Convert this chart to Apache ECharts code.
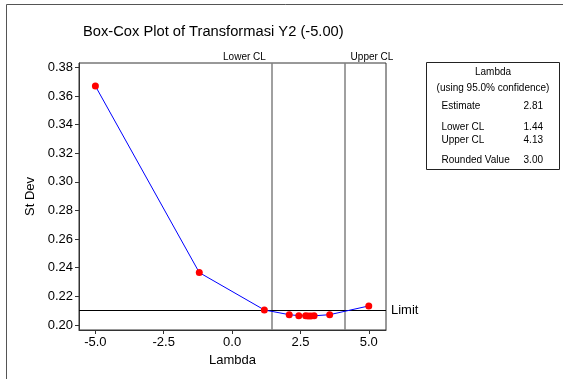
<!DOCTYPE html>
<html><head><meta charset="utf-8">
<script src="https://cdn.jsdelivr.net/npm/echarts@6/dist/echarts.min.js"></script>
<style>html,body{margin:0;padding:0;background:#fff}#c{width:563px;height:379px}</style>
</head><body><div id="c"></div>
<script>
var lambdas = [-5.0, -1.2, 1.18, 2.09, 2.44, 2.69, 2.78, 2.88, 3.0, 3.57, 5.0];
var stdevs  = [0.3669, 0.2366, 0.2105, 0.2072, 0.2065, 0.2064, 0.2063, 0.2063, 0.2064, 0.2072, 0.2133];
var xTicks = [-5.0, -2.5, 0.0, 2.5, 5.0];
var yTicks = [0.20, 0.22, 0.24, 0.26, 0.28, 0.30, 0.32, 0.34, 0.36, 0.38];
var lowerCL = 1.44, upperCL = 4.13, limitVal = 0.2096;
var boxTitle = ['Lambda', '(using 95.0% confidence)'];
var boxRows = [['Estimate', '2.81'], ['Lower CL', '1.44'], ['Upper CL', '4.13'], ['Rounded Value', '3.00']];
var FONT = "'Liberation Sans', Arial, sans-serif";

var chart = echarts.init(document.getElementById('c'), null, {renderer: 'canvas'});
var data = lambdas.map(function (l, i) { return [l, stdevs[i]]; });
var rowY = [106.7, 127.7, 140.7, 160.7];
var boxChildren = [
  {type: 'rect', shape: {x: 426.5, y: 62.5, width: 133, height: 107}, style: {fill: '#fff', stroke: '#222', lineWidth: 1}},
  {type: 'text', x: 493, y: 72.7, style: {text: boxTitle[0], font: '10px ' + FONT, fill: '#000', align: 'center', verticalAlign: 'middle'}},
  {type: 'text', x: 493, y: 88.7, style: {text: boxTitle[1], font: '10px ' + FONT, fill: '#000', align: 'center', verticalAlign: 'middle'}}
];
boxRows.forEach(function (r, i) {
  boxChildren.push({type: 'text', x: 441.5, y: rowY[i], style: {text: r[0], font: '10px ' + FONT, fill: '#000', align: 'left', verticalAlign: 'middle'}});
  boxChildren.push({type: 'text', x: 543, y: rowY[i], style: {text: r[1], font: '10px ' + FONT, fill: '#000', align: 'right', verticalAlign: 'middle'}});
});

chart.setOption({
  animation: false,
  backgroundColor: '#fff',
  textStyle: {fontFamily: FONT},
  title: {text: 'Box-Cox Plot of Transformasi Y2 (-5.00)', left: 78, top: 19,
    textStyle: {fontSize: 14.7, fontWeight: 'normal', color: '#000', fontFamily: FONT}},
  grid: {left: 79, top: 63, width: 307, height: 267, show: true, borderColor: '#333', borderWidth: 1, backgroundColor: 'transparent'},
  xAxis: {type: 'value', min: -5.6, max: 5.63,
    name: 'Lambda', nameLocation: 'middle', nameGap: 22,
    nameTextStyle: {fontSize: 13, color: '#000', fontFamily: FONT},
    axisLine: {show: true, onZero: false, lineStyle: {color: '#333'}},
    axisTick: {show: true, length: 4, customValues: xTicks, lineStyle: {color: '#333'}},
    axisLabel: {customValues: xTicks, fontSize: 13, color: '#000', margin: 6, fontFamily: FONT,
      formatter: function (v) { return v.toFixed(1); }},
    splitLine: {show: false}},
  yAxis: {type: 'value', min: 0.1965, max: 0.383,
    name: 'St Dev', nameLocation: 'middle', nameGap: 38, nameRotate: 90,
    nameTextStyle: {fontSize: 13, color: '#000', fontFamily: FONT},
    axisLine: {show: true, onZero: false, lineStyle: {color: '#333'}},
    axisTick: {show: true, length: 4, customValues: yTicks, lineStyle: {color: '#333'}},
    axisLabel: {customValues: yTicks, fontSize: 13, color: '#000', margin: 6, fontFamily: FONT,
      formatter: function (v) { return v.toFixed(2); }},
    splitLine: {show: false}},
  series: [{
    type: 'line', data: data, symbol: 'circle', symbolSize: 7,
    lineStyle: {color: '#0000ff', width: 1},
    itemStyle: {color: '#ff0000'},
    z: 5,
    markLine: {
      silent: true, symbol: 'none', animation: false,
      data: [
        {xAxis: lowerCL, lineStyle: {color: '#808080', width: 1.5, type: 'solid'},
          label: {show: true, position: 'end', formatter: 'Lower CL', fontSize: 10, color: '#000', distance: 1, offset: [-27, 0], fontFamily: FONT}},
        {xAxis: upperCL, lineStyle: {color: '#808080', width: 1.5, type: 'solid'},
          label: {show: true, position: 'end', formatter: 'Upper CL', fontSize: 10, color: '#000', distance: 1, offset: [27, 0], fontFamily: FONT}},
        {yAxis: limitVal, lineStyle: {color: '#000', width: 1, type: 'solid'},
          label: {show: true, position: 'end', formatter: 'Limit', fontSize: 13, color: '#000', distance: 5, fontFamily: FONT}}
      ]
    }
  }],
  graphic: [
    {type: 'rect', shape: {x: 6.5, y: 4.5, width: 700, height: 500}, style: {fill: 'none', stroke: '#555', lineWidth: 1}, silent: true},
    {type: 'group', children: boxChildren}
  ]
});
</script></body></html>
